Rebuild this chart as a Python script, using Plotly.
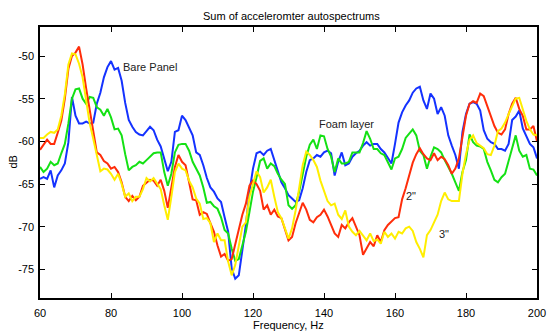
import plotly.graph_objects as go

# Frequency grid (Hz) shared by all four spectra
freq = list(range(60, 201))

# Summed accelerometer autospectra, dB
bare_panel = [
    -64.4, -64.2, -64.4, -63.4, -65.4, -64.0, -63.4, -62.6, -60.1, -54.8,
    -57.0, -57.9, -57.9, -57.7, -57.9, -57.8, -55.6, -54.3, -52.5, -51.3,
    -50.6, -51.6, -51.4, -52.9, -55.5, -57.5, -58.3, -58.9, -59.2, -59.3,
    -58.8, -58.3, -58.7, -59.8, -60.6, -62.0, -63.5, -62.4, -58.9, -58.7,
    -57.0, -57.5, -58.5, -59.3, -61.3, -61.6, -62.8, -64.3, -65.4, -65.9,
    -66.7, -67.1, -68.9, -70.6, -74.9, -76.1, -75.7, -72.6, -69.8, -65.9,
    -63.2, -61.4, -61.2, -61.6, -61.1, -60.9, -62.2, -63.6, -64.8, -65.5,
    -66.3, -66.7, -67.1, -66.9, -65.5, -63.6, -62.2, -62.0, -61.6, -61.8,
    -61.3, -61.1, -61.4, -64.0, -62.4, -61.3, -62.8, -62.6, -61.8, -61.4,
    -61.1, -60.5, -60.1, -60.5, -60.3, -60.3, -60.9, -61.3, -62.0, -62.6,
    -60.3, -57.8, -56.6, -55.8, -55.2, -54.3, -53.8, -53.6, -55.2, -56.2,
    -54.4, -55.0, -56.8, -56.0, -57.0, -59.3, -60.5, -61.6, -63.2, -58.9,
    -56.8, -55.6, -55.4, -55.6, -56.4, -58.7, -59.7, -60.1, -60.3, -60.9,
    -60.9, -61.1, -60.3, -57.5, -57.1, -56.4, -58.5, -59.5, -60.3, -60.7,
    -62.0,
]

foam_layer = [
    -63.0, -63.6, -63.2, -62.4, -62.8, -62.6, -61.4, -60.3, -57.9, -55.0,
    -53.9, -53.8, -55.0, -55.6, -54.8, -54.9, -56.0, -56.3, -57.0, -56.2,
    -57.2, -58.6, -58.5, -59.3, -61.5, -63.4, -63.0, -62.8, -62.4, -62.6,
    -62.2, -61.8, -61.4, -61.3, -61.3, -63.6, -65.2, -63.8, -61.3, -60.4,
    -60.3, -60.3, -61.1, -62.4, -63.2, -64.0, -65.4, -67.2, -67.1, -67.6,
    -67.9, -68.9, -70.4, -70.8, -72.6, -74.0, -73.8, -72.2, -70.6, -68.3,
    -65.9, -64.2, -62.3, -62.0, -63.2, -62.6, -62.9, -63.8, -64.5, -65.0,
    -67.5, -67.9, -67.5, -65.9, -64.0, -61.8, -60.4, -59.8, -60.9, -59.3,
    -59.4, -60.9, -61.8, -63.6, -62.0, -62.6, -62.6, -62.4, -61.3, -61.3,
    -61.3, -60.2, -58.8, -59.7, -60.9, -60.9, -61.4, -61.6, -62.4, -63.3,
    -62.0, -61.8, -60.9, -59.6, -59.1, -58.6, -59.3, -61.1, -61.6, -63.2,
    -61.8, -60.7, -60.9, -61.3, -62.2, -63.0, -63.8, -64.8, -65.8, -63.6,
    -62.2, -59.2, -60.1, -60.5, -60.6, -60.9, -62.4, -63.4, -64.5, -64.8,
    -64.2, -63.8, -62.2, -60.9, -59.3, -61.1, -61.8, -61.6, -63.2, -63.3,
    -64.0,
]

two_inch = [
    -61.0, -60.4, -59.8, -60.3, -60.3, -59.0, -57.6, -55.0, -51.5, -50.0,
    -49.6, -48.9, -51.0, -53.8, -56.2, -59.0, -61.3, -61.6, -62.3, -62.6,
    -63.2, -63.0, -63.6, -64.8, -66.5, -67.0, -66.4, -66.9, -66.5, -65.2,
    -64.8, -64.5, -64.6, -65.2, -64.5, -65.8, -67.8, -65.5, -63.0, -61.6,
    -62.4, -62.8, -65.0, -66.8, -66.9, -68.6, -68.3, -68.5, -69.6, -70.6,
    -72.2, -73.5, -73.2, -74.0, -73.8, -72.0, -70.5, -68.6, -67.3, -65.2,
    -64.6, -65.0, -65.8, -68.0, -67.5, -68.6, -68.0, -68.8, -69.0, -70.4,
    -71.6, -71.2, -69.6, -68.4, -67.2, -68.0, -69.2, -69.5, -68.9, -68.6,
    -68.0, -68.8, -69.8, -70.8, -71.2, -69.8, -70.2, -69.5, -69.0, -69.9,
    -71.0, -73.3, -72.6, -71.8, -72.3, -71.0, -71.8, -70.4, -69.8, -69.4,
    -69.0, -68.9, -66.8, -65.5, -64.0, -62.5, -61.5, -60.8, -61.5, -62.0,
    -62.2, -61.4, -62.2, -61.8, -62.1, -62.8, -63.8, -63.2, -62.0, -59.5,
    -57.0, -55.6, -55.3, -55.5, -54.4, -54.7, -55.9, -57.1, -58.2, -59.0,
    -59.2, -58.6, -56.8, -55.6, -54.9, -56.2, -57.0, -58.6, -58.6, -58.2,
    -60.0,
]

three_inch = [
    -59.6, -59.6, -59.2, -58.9, -59.0, -58.6, -57.0, -54.5, -51.0, -49.7,
    -49.8, -50.9, -52.5, -55.0, -57.9, -59.7, -61.8, -63.5, -63.2, -63.3,
    -63.8, -64.5, -63.8, -65.0, -66.5, -66.1, -67.0, -66.5, -66.5, -65.6,
    -64.3, -64.7, -64.3, -64.9, -65.6, -67.5, -69.2, -66.5, -63.6, -62.6,
    -63.2, -63.4, -64.6, -65.4, -66.7, -67.3, -69.1, -69.0, -69.6, -71.8,
    -70.8, -71.6, -71.6, -74.1, -75.7, -74.5, -72.2, -70.0, -69.5, -66.5,
    -65.0, -63.5, -64.2, -66.0, -65.4, -64.5, -66.5, -68.3, -69.0, -70.2,
    -71.4, -70.2, -68.1, -65.5, -62.8, -61.2, -61.6, -62.2, -63.0, -64.6,
    -65.9, -67.0, -67.5, -67.3, -68.6, -69.1, -68.1, -70.0, -70.6, -71.0,
    -70.5, -71.0, -71.6, -70.8, -71.7, -71.5, -72.0, -70.6, -71.2, -70.8,
    -71.4, -70.6, -70.8, -70.2, -70.0, -70.5, -71.8, -72.6, -73.6, -71.0,
    -70.4, -69.5, -68.6, -67.0, -66.0, -66.8, -67.0, -67.0, -67.0, -63.8,
    -61.5, -59.8, -59.3, -60.2, -60.5, -60.8, -61.5, -61.6, -60.5, -58.8,
    -58.5, -57.8, -56.8, -55.8, -55.0, -54.9, -56.2, -57.6, -58.6, -59.2,
    -59.3,
]

x_ticks = [60, 80, 100, 120, 140, 160, 180, 200]
y_ticks = [-75, -70, -65, -60, -55, -50]
y_tick_text = ["-75", "-70", "-65", "-60", "-55", "-50"]

series = [
    (bare_panel, "rgb(20,50,255)"),
    (foam_layer, "rgb(20,225,20)"),
    (two_inch, "rgb(255,45,10)"),
    (three_inch, "rgb(255,238,0)"),
]

FONT = "Liberation Sans, Arial, Helvetica, sans-serif"

fig = go.Figure()
for values, colour in series:
    fig.add_trace(go.Scatter(
        x=freq, y=values, mode="lines",
        line=dict(color=colour, width=2), showlegend=False,
        hoverinfo="skip",
    ))

# In-plot labels for each curve
labels = [
    ("Bare Panel", 91.0, -51.3),
    ("Foam layer", 146.2, -58.0),
    ('2"', 164.6, -66.4),
    ('3"', 173.8, -70.9),
]
for text, lx, ly in labels:
    fig.add_annotation(x=lx, y=ly, text=text, showarrow=False,
                       font=dict(family=FONT, size=11, color="#222"))

# Title and axis titles
fig.add_annotation(xref="paper", yref="paper", x=0.507, y=1, yshift=11.5,
                   xanchor="center", yanchor="middle",
                   text="Sum of acceleromter autospectrums", showarrow=False,
                   font=dict(family=FONT, size=11, color="black"))
fig.add_annotation(xref="paper", yref="paper", x=0.5, y=0, yshift=-27,
                   xanchor="center", yanchor="middle",
                   text="Frequency, Hz", showarrow=False,
                   font=dict(family=FONT, size=11, color="black"))
fig.add_annotation(xref="paper", yref="paper", x=0, y=0.5, xshift=-28,
                   xanchor="center", yanchor="middle",
                   text="dB", textangle=-90, showarrow=False,
                   font=dict(family=FONT, size=11, color="black"))

axis_common = dict(
    showgrid=False, zeroline=False, showline=True, linecolor="black",
    linewidth=1.5, mirror="allticks", ticks="inside", ticklen=5,
    tickcolor="black", tickwidth=1,
    tickfont=dict(family=FONT, size=11, color="black"),
)

fig.update_layout(
    width=555, height=333,
    margin=dict(l=40, r=9, t=27, b=35),
    paper_bgcolor="white", plot_bgcolor="white",
    xaxis=dict(range=[60, 200], tickvals=x_ticks,
               ticklabelstandoff=4, **axis_common),
    yaxis=dict(range=[-78.36, -46.6], tickvals=y_ticks, ticktext=y_tick_text,
               ticklabelstandoff=2, **axis_common),
)

fig.write_html("out.html")
